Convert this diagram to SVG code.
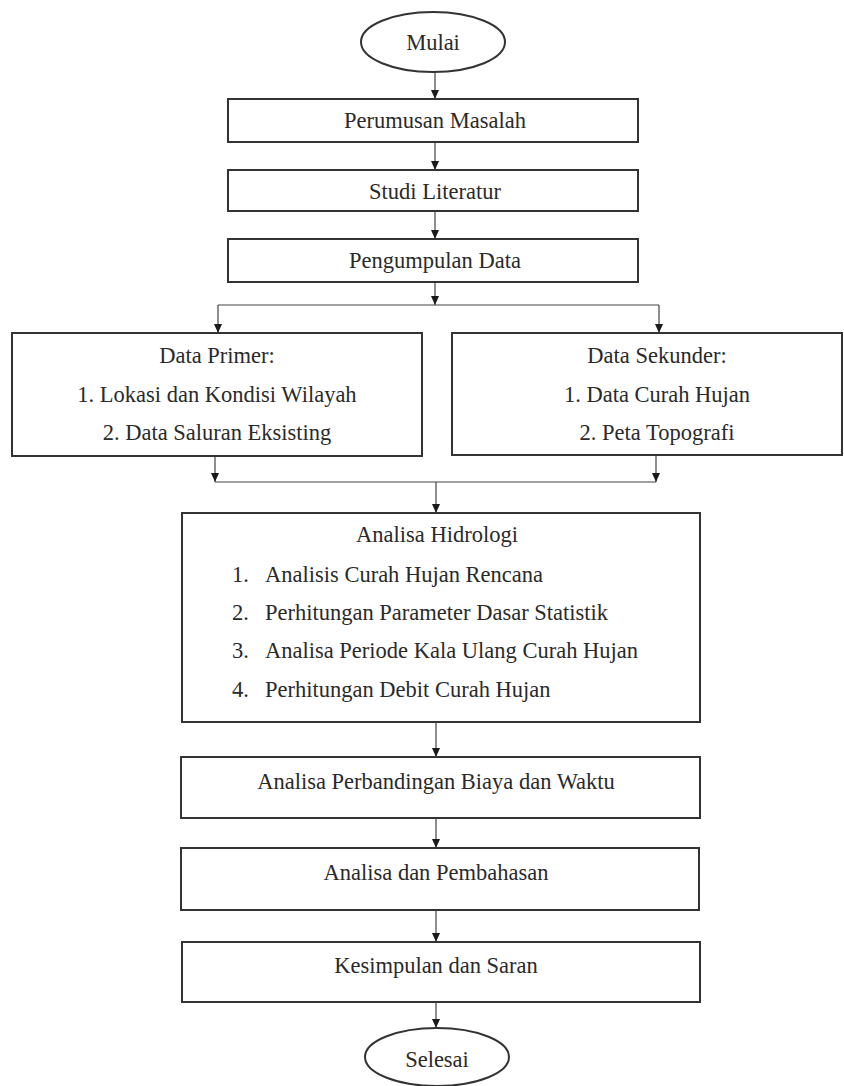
<svg xmlns="http://www.w3.org/2000/svg" width="844" height="1086" viewBox="0 0 844 1086">
<style>
.box{fill:#fff;stroke:#333;stroke-width:2}
.t{font-family:"Liberation Serif","Times New Roman",serif;font-size:22.5px;fill:#2a2a2a}
.c{text-anchor:middle}
.ln{fill:none;stroke:#444;stroke-width:1.2}
</style>
<defs>
<marker id="ah" markerUnits="userSpaceOnUse" markerWidth="10" markerHeight="10" refX="9" refY="5" orient="auto">
<path d="M0,1 L9,5 L0,9 Z" fill="#1a1a1a"/>
</marker>
</defs>
<rect width="844" height="1086" fill="#fff"/>
<g id="connectors">
<path class="ln" d="M435,72 V99" marker-end="url(#ah)"/>
<path class="ln" d="M435,142 V170" marker-end="url(#ah)"/>
<path class="ln" d="M435,211 V239" marker-end="url(#ah)"/>
<path class="ln" d="M435,282 V305" marker-end="url(#ah)"/>
<path class="ln" d="M218,305 H659"/>
<path class="ln" d="M218,305 V333" marker-end="url(#ah)"/>
<path class="ln" d="M659,305 V333" marker-end="url(#ah)"/>
<path class="ln" d="M215,456 V482" marker-end="url(#ah)"/>
<path class="ln" d="M656,455 V482" marker-end="url(#ah)"/>
<path class="ln" d="M215,482 H656"/>
<path class="ln" d="M436,482 V513" marker-end="url(#ah)"/>
<path class="ln" d="M436,722 V757" marker-end="url(#ah)"/>
<path class="ln" d="M436,818 V848" marker-end="url(#ah)"/>
<path class="ln" d="M436,910 V942" marker-end="url(#ah)"/>
<path class="ln" d="M436,1002 V1028" marker-end="url(#ah)"/>
</g>
<g id="mulai">
<ellipse class="box" cx="433" cy="42" rx="72" ry="30"/>
<text class="t c" x="433" y="50">Mulai</text>
</g>
<g id="perumusan">
<rect class="box" x="228" y="99" width="410" height="43"/>
<text class="t c" x="435" y="128">Perumusan Masalah</text>
</g>
<g id="studi">
<rect class="box" x="228" y="170" width="410" height="41"/>
<text class="t c" x="435" y="199">Studi Literatur</text>
</g>
<g id="pengumpulan">
<rect class="box" x="228" y="239" width="410" height="43"/>
<text class="t c" x="435" y="268">Pengumpulan Data</text>
</g>
<g id="primer">
<rect class="box" x="12" y="333" width="410" height="123"/>
<text class="t c" x="217" y="363">Data Primer:</text>
<text class="t c" x="217" y="402">1. Lokasi dan Kondisi Wilayah</text>
<text class="t c" x="217" y="440">2. Data Saluran Eksisting</text>
</g>
<g id="sekunder">
<rect class="box" x="452" y="333" width="390" height="122"/>
<text class="t c" x="657" y="363">Data Sekunder:</text>
<text class="t c" x="657" y="402">1. Data Curah Hujan</text>
<text class="t c" x="657" y="440">2. Peta Topografi</text>
</g>
<g id="hidrologi">
<rect class="box" x="182" y="513" width="518" height="209"/>
<text class="t c" x="437" y="542">Analisa Hidrologi</text>
<text class="t" x="232" y="582">1.</text>
<text class="t" x="265" y="582">Analisis Curah Hujan Rencana</text>
<text class="t" x="232" y="620">2.</text>
<text class="t" x="265" y="620">Perhitungan Parameter Dasar Statistik</text>
<text class="t" x="232" y="658">3.</text>
<text class="t" x="265" y="658">Analisa Periode Kala Ulang Curah Hujan</text>
<text class="t" x="232" y="697">4.</text>
<text class="t" x="265" y="697">Perhitungan Debit Curah Hujan</text>
</g>
<g id="biaya">
<rect class="box" x="181" y="757" width="519" height="61"/>
<text class="t c" x="436" y="789">Analisa Perbandingan Biaya dan Waktu</text>
</g>
<g id="pembahasan">
<rect class="box" x="181" y="848" width="518" height="62"/>
<text class="t c" x="436" y="880">Analisa dan Pembahasan</text>
</g>
<g id="kesimpulan">
<rect class="box" x="182" y="942" width="518" height="60"/>
<text class="t c" x="436" y="973">Kesimpulan dan Saran</text>
</g>
<g id="selesai">
<ellipse class="box" cx="437" cy="1057" rx="72" ry="29"/>
<text class="t c" x="437" y="1067">Selesai</text>
</g>
</svg>
